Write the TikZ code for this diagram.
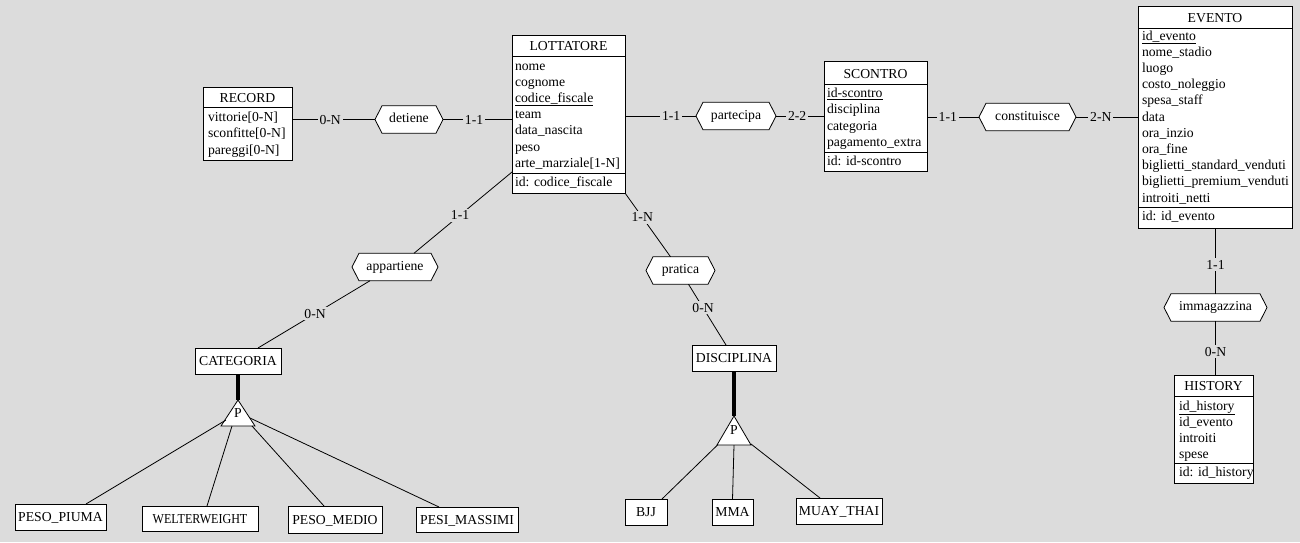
\documentclass[tikz,border=0pt]{standalone}
\usepackage{fontspec}
\usepackage{graphicx}
\setmainfont{Liberation Serif}
\usetikzlibrary{backgrounds}
\definecolor{canvas}{RGB}{220,220,220}
\newcommand\txt{\fontsize{13.7}{16.2}\selectfont}
% relationship: invisible label node with a hexagon outline drawn behind it
\newcommand\hexnode[4]{%
  \node[hexlabel, minimum width=#3] (#1) at #2 {#4};
  \begin{scope}[on background layer]
    \draw[link, fill=white] (#1.west) -- ([xshift=7pt]#1.north west)
      -- ([xshift=-7pt]#1.north east) -- (#1.east)
      -- ([xshift=-7pt]#1.south east) -- ([xshift=7pt]#1.south west) -- cycle;
  \end{scope}}
% is-a triangle around an existing coordinate: name, half base, apex rise, base drop
\newcommand\isanode[4]{%
  \draw[link, fill=white] ([shift={(0,-#3)}]#1) -- ([shift={(#2,#4)}]#1)
    -- ([shift={(-#2,#4)}]#1) -- cycle;
  \node[isamark] (#1-p) at (#1) {P};}
\tikzset{
  every node/.style={font=\txt, inner sep=0pt, outer sep=0pt},
  link/.style={line width=0.8pt},
  heavy/.style={line width=4pt},
  frame/.style={draw, line width=0.8pt, fill=white, anchor=north west},
  head/.style={anchor=base},
  attrs/.style={anchor=north west, align=left},
  idtext/.style={anchor=base west},
  plain/.style={draw, line width=0.8pt, fill=white, anchor=north west, text height=9pt, text depth=0pt},
  hexlabel/.style={minimum height=27.5pt, text height=9.5pt, text depth=3pt},
  isamark/.style={text height=9pt, text depth=0pt},
  card/.style={fill=canvas, inner sep=2pt, text height=9pt, text depth=0pt},
}
\begin{document}
\begin{tikzpicture}[x=1pt, y=-1pt]
\useasboundingbox (0,0) rectangle (1300,542);
\begin{scope}[on background layer]
  \fill[canvas] (0,0) rectangle (1300,542);
\end{scope}

% ---------- entities ----------
% LOTTATORE
\node[frame, minimum width=113pt, minimum height=158pt] (lott) at (512,35) {};
\node[head] (lott-t) at ([shift={(0,15.7)}]lott.north) {LOTTATORE};
\draw[link] ([shift={(0,21)}]lott.north west) -- ([shift={(0,21)}]lott.north east);
\node[attrs] (lott-a) at ([shift={(3,22)}]lott.north west)
  {\rule{0pt}{13pt}nome\\cognome\\\underline{codice\_fiscale}\\team\\data\_nascita\\peso\\arte\_marziale[1-N]};
\draw[link] ([shift={(0,138)}]lott.north west) -- ([shift={(0,138)}]lott.north east);
\node[idtext] (lott-id) at ([shift={(3,151.5)}]lott.north west) {id: codice\_fiscale};

% RECORD
\node[frame, minimum width=89pt, minimum height=73pt] (rec) at (203,87) {};
\node[head] (rec-t) at ([shift={(0,15.7)}]rec.north) {RECORD};
\draw[link] ([shift={(0,20)}]rec.north west) -- ([shift={(0,20)}]rec.north east);
\node[attrs] (rec-a) at ([shift={(5,21.7)}]rec.north west)
  {\rule{0pt}{13pt}vittorie[0-N]\\sconfitte[0-N]\\pareggi[0-N]};

% SCONTRO
\node[frame, minimum width=103pt, minimum height=110pt] (sco) at (824,61) {};
\node[head] (sco-t) at ([shift={(0,17.5)}]sco.north) {SCONTRO};
\draw[link] ([shift={(0,23)}]sco.north west) -- ([shift={(0,23)}]sco.north east);
\node[attrs] (sco-a) at ([shift={(3,23.7)}]sco.north west)
  {\rule{0pt}{13pt}\underline{id-scontro}\\disciplina\\categoria\\pagamento\_extra};
\draw[link] ([shift={(0,91.7)}]sco.north west) -- ([shift={(0,91.7)}]sco.north east);
\node[idtext] (sco-id) at ([shift={(3,104)}]sco.north west) {id: id-scontro};

% EVENTO
\node[frame, minimum width=154pt, minimum height=222pt] (eve) at (1138,6) {};
\node[head] (eve-t) at ([shift={(0,16.7)}]eve.north) {EVENTO};
\draw[link] ([shift={(0,22)}]eve.north west) -- ([shift={(0,22)}]eve.north east);
\node[attrs] (eve-a) at ([shift={(4,21)}]eve.north west)
  {\rule{0pt}{13pt}\underline{id\_evento}\\nome\_stadio\\luogo\\costo\_noleggio\\spesa\_staff\\data\\ora\_inzio\\ora\_fine\\biglietti\_standard\_venduti\\biglietti\_premium\_venduti\\introiti\_netti};
\draw[link] ([shift={(0,201.3)}]eve.north west) -- ([shift={(0,201.3)}]eve.north east);
\node[idtext] (eve-id) at ([shift={(4,214.7)}]eve.north west) {id: id\_evento};

% HISTORY
\node[frame, minimum width=79pt, minimum height=108pt] (his) at (1174,375) {};
\node[head] (his-t) at ([shift={(0,15.7)}]his.north) {HISTORY};
\draw[link] ([shift={(0,21)}]his.north west) -- ([shift={(0,21)}]his.north east);
\node[attrs] (his-a) at ([shift={(5,22)}]his.north west)
  {\rule{0pt}{13pt}\underline{id\_history}\\id\_evento\\introiti\\spese};
\draw[link] ([shift={(0,88)}]his.north west) -- ([shift={(0,88)}]his.north east);
\node[idtext] (his-id) at ([shift={(5,101)}]his.north west) {id: id\_history};

% simple entities of the two hierarchies
\node[plain, minimum width=86pt, minimum height=26pt] (cat) at (195,348) {CATEGORIA};
\node[plain, minimum width=84pt, minimum height=26pt] (disc) at (692,345) {DISCIPLINA};
\node[plain, minimum width=91pt, minimum height=26pt] (piuma) at (15,504) {PESO\_PIUMA};
\node[plain, minimum width=116pt, minimum height=25pt] (welter) at (142,506) {\scalebox{0.88}[1]{WELTERWEIGHT}};
\node[plain, minimum width=94pt, minimum height=27pt] (medio) at (288,506) {PESO\_MEDIO};
\node[plain, minimum width=102pt, minimum height=25pt] (massimi) at (416,507) {PESI\_MASSIMI};
\node[plain, minimum width=42pt, minimum height=26pt] (bjj) at (625,499) {BJJ};
\node[plain, minimum width=41pt, minimum height=26pt] (mma) at (712,499) {MMA};
\node[plain, minimum width=86pt, minimum height=26pt] (muay) at (796,498) {MUAY\_THAI};

% ---------- relationships ----------
\hexnode{det}{(409,119.5)}{68pt}{detiene}
\hexnode{par}{(736,116)}{80pt}{partecipa}
\hexnode{con}{(1027.5,117)}{97pt}{constituisce}
\hexnode{app}{(395,267)}{86pt}{appartiene}
\hexnode{prat}{(680.5,270.5)}{69pt}{pratica}
\hexnode{imm}{(1215.5,307.5)}{103pt}{immagazzina}

% ---------- connectors with cardinalities ----------
\draw[link] (rec.east |- det.west) -- node[card, pos=.46] {0-N} (det.west);
\draw[link] (det.east) -- node[card, pos=.45] {1-1} (det.east -| lott.west);
\draw[link] (lott.east |- par.west) -- node[card, pos=.65] {1-1} (par.west);
\draw[link] (par.east) -- node[card, pos=.44] {2-2} (par.east -| sco.west);
\draw[link] (sco.east |- con.west) -- node[card, pos=.4] {1-1} (con.west);
\draw[link] (con.east) -- node[card, pos=.4] {2-N} (con.east -| eve.west);
\draw[link] (imm.north |- eve.south) -- node[card, pos=.56] {1-1} (imm.north);
\draw[link] (imm.south) -- node[card, pos=.57] {0-N} (imm.south |- his.north);
\draw[link] ([shift={(0,-21)}]lott.south west) -- node[card, pos=.53] {1-1} ([shift={(19,0)}]app.north);
\draw[link] ([shift={(-25,0)}]app.south) -- node[card, pos=.49] {0-N} ([shift={(20,0)}]cat.north);
\draw[link] (lott.south east) -- node[card, pos=.38] {1-N} ([shift={(-10,0)}]prat.north);
\draw[link] ([shift={(8,0)}]prat.south) -- node[card, pos=.39] {0-N} ([shift={(-8,0)}]disc.north);

% ---------- generalisations ----------
\coordinate (catisa) at (238,413);
\coordinate (discisa) at (734,430);
\draw[heavy] (cat.south) -- ([shift={(0,-13)}]catisa);
\draw[heavy] (disc.south) -- ([shift={(0,-14)}]discisa);
\isanode{catisa}{17}{13}{13}
\isanode{discisa}{17}{14}{15}

\draw[link] ([shift={(-12,7)}]catisa) -- ([shift={(25.5,0)}]piuma.north);
\draw[link] ([shift={(-6,13)}]catisa) -- ([shift={(7,0)}]welter.north);
\draw[link] ([shift={(14,13)}]catisa) -- ([shift={(-11,0)}]medio.north);
\draw[link] ([shift={(12,5)}]catisa) -- ([shift={(-28,0)}]massimi.north);

\draw[link] ([shift={(-16.5,15)}]discisa) -- ([shift={(16,0)}]bjj.north);
\draw[link] ([shift={(0,15)}]discisa) -- (mma.north);
\draw[link] ([shift={(17,14)}]discisa) -- ([shift={(-19,0)}]muay.north);
\end{tikzpicture}
\end{document}
